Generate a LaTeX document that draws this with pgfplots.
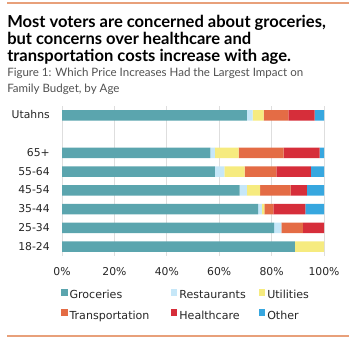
\documentclass[border=0pt]{standalone}
\usepackage{pgfplots}
\pgfplotsset{compat=1.18}
\usepackage{pgfplotstable}
\usepackage{fontspec}
\setmainfont{DejaVu Sans}
\newfontfamily\titlefont{Lato}
\definecolor{cgro}{HTML}{5BA5AE}
\definecolor{cres}{HTML}{C6E7F8}
\definecolor{cuti}{HTML}{F6EB7F}
\definecolor{ctra}{HTML}{E46C45}
\definecolor{chea}{HTML}{D62E3A}
\definecolor{coth}{HTML}{37A7DF}
\definecolor{rule}{HTML}{E8A07A}
\definecolor{subgray}{HTML}{505050}
\pgfplotstableread{
y gro res uti tra hea oth
7 70.6 2.2 4.2 9.4 10.0 3.6
5 56.6 1.7 9.1 17.2 13.7 1.7
4 58.3 3.7 7.7 12.1 13.2 5.0
3 67.8 2.8 5.0 11.7 6.2 6.5
2 74.9 1.4 0.9 3.5 12.2 7.1
1 81.0 2.7 0.0 8.2 8.1 0.0
0 88.9 0.0 11.1 0.0 0.0 0.0
}\datatable
\begin{document}
\begin{tikzpicture}
\useasboundingbox (0,0) rectangle (267pt,255.75pt);
\draw[rule, line width=1.1pt] (5.25pt,253.5pt) -- (261.75pt,253.5pt);
\draw[rule, line width=1.1pt] (5.25pt,3.75pt) -- (261.75pt,3.75pt);
\node[anchor=base west, inner sep=0pt, font=\titlefont\bfseries\fontsize{12.4}{14}\selectfont] at (5.25pt,235.1pt) {Most voters are concerned about groceries,};
\node[anchor=base west, inner sep=0pt, font=\titlefont\bfseries\fontsize{12.4}{14}\selectfont] at (5.25pt,222.4pt) {but concerns over healthcare and};
\node[anchor=base west, inner sep=0pt, font=\titlefont\bfseries\fontsize{12.4}{14}\selectfont] at (5.25pt,209.6pt) {transportation costs increase with age.};
\node[anchor=base west, inner sep=0pt, text=subgray, font=\titlefont\fontsize{8.65}{10}\selectfont] at (5.25pt,198.5pt) {Figure 1: Which Price Increases Had the Largest Impact on};
\node[anchor=base west, inner sep=0pt, text=subgray, font=\titlefont\fontsize{8.65}{10}\selectfont] at (5.25pt,186.2pt) {Family Budget, by Age};
\begin{axis}[
  at={(46.5pt,63.75pt)}, anchor=south west,
  scale only axis, width=196.5pt, height=112.5pt,
  xbar stacked, bar width=8pt,
  xmin=0, xmax=100, ymin=-0.5, ymax=7.5,
  axis line style={draw=none},
  major tick length=0pt,
  xtick={0,20,40,60,80,100},
  xticklabels={0\%,20\%,40\%,60\%,80\%,100\%},
  ytick={0,1,2,3,4,5,7},
  yticklabels={18-24,25-34,35-44,45-54,55-64,65+,Utahns},
  xmajorgrids, grid style={color=black!13, line width=0.75pt},
  tick label style={font=\fontsize{8.1}{10}\selectfont, text=black!85},
  xticklabel style={anchor=base, inner sep=0pt, yshift=-15pt},
  yticklabel style={anchor=base east, inner sep=0pt, xshift=-9pt, yshift=-2.7pt},
  /pgf/number format/assume math mode=true,
  legend columns=3,
  legend style={draw=none, fill=none, inner sep=0pt, outer sep=0pt,
    at={(-0.0038,-0.221)}, anchor=north west,
    font=\fontsize{8.3}{10}\selectfont, text=black!85,
    nodes={inner sep=0pt},
    row sep=6.4pt,
    /tikz/every odd column/.append style={column sep=1.5pt},
    /tikz/every even column/.append style={column sep=0pt}},
  legend cell align=left,
  every axis plot/.append style={draw=none},
]
\addplot[fill=cgro, legend image code/.code={\fill[cgro] (0pt,0pt) rectangle (4.9pt,4.9pt);}] table[x=gro,y=y] {\datatable};
\addplot[fill=cres, legend image code/.code={\fill[cres] (0pt,0pt) rectangle (4.9pt,4.9pt);}] table[x=res,y=y] {\datatable};
\addplot[fill=cuti, legend image code/.code={\fill[cuti] (0pt,0pt) rectangle (4.9pt,4.9pt);}] table[x=uti,y=y] {\datatable};
\addplot[fill=ctra, legend image code/.code={\fill[ctra] (0pt,0pt) rectangle (4.9pt,4.9pt);}] table[x=tra,y=y] {\datatable};
\addplot[fill=chea, legend image code/.code={\fill[chea] (0pt,0pt) rectangle (4.9pt,4.9pt);}] table[x=hea,y=y] {\datatable};
\addplot[fill=coth, legend image code/.code={\fill[coth] (0pt,0pt) rectangle (4.9pt,4.9pt);}] table[x=oth,y=y] {\datatable};
\addlegendentry{\makebox[76pt][l]{Groceries}}
\addlegendentry{\makebox[59.5pt][l]{Restaurants}}
\addlegendentry{Utilities}
\addlegendentry{\makebox[76pt][l]{Transportation}}
\addlegendentry{\makebox[59.5pt][l]{Healthcare}}
\addlegendentry{Other}
\end{axis}
\end{tikzpicture}
\end{document}
